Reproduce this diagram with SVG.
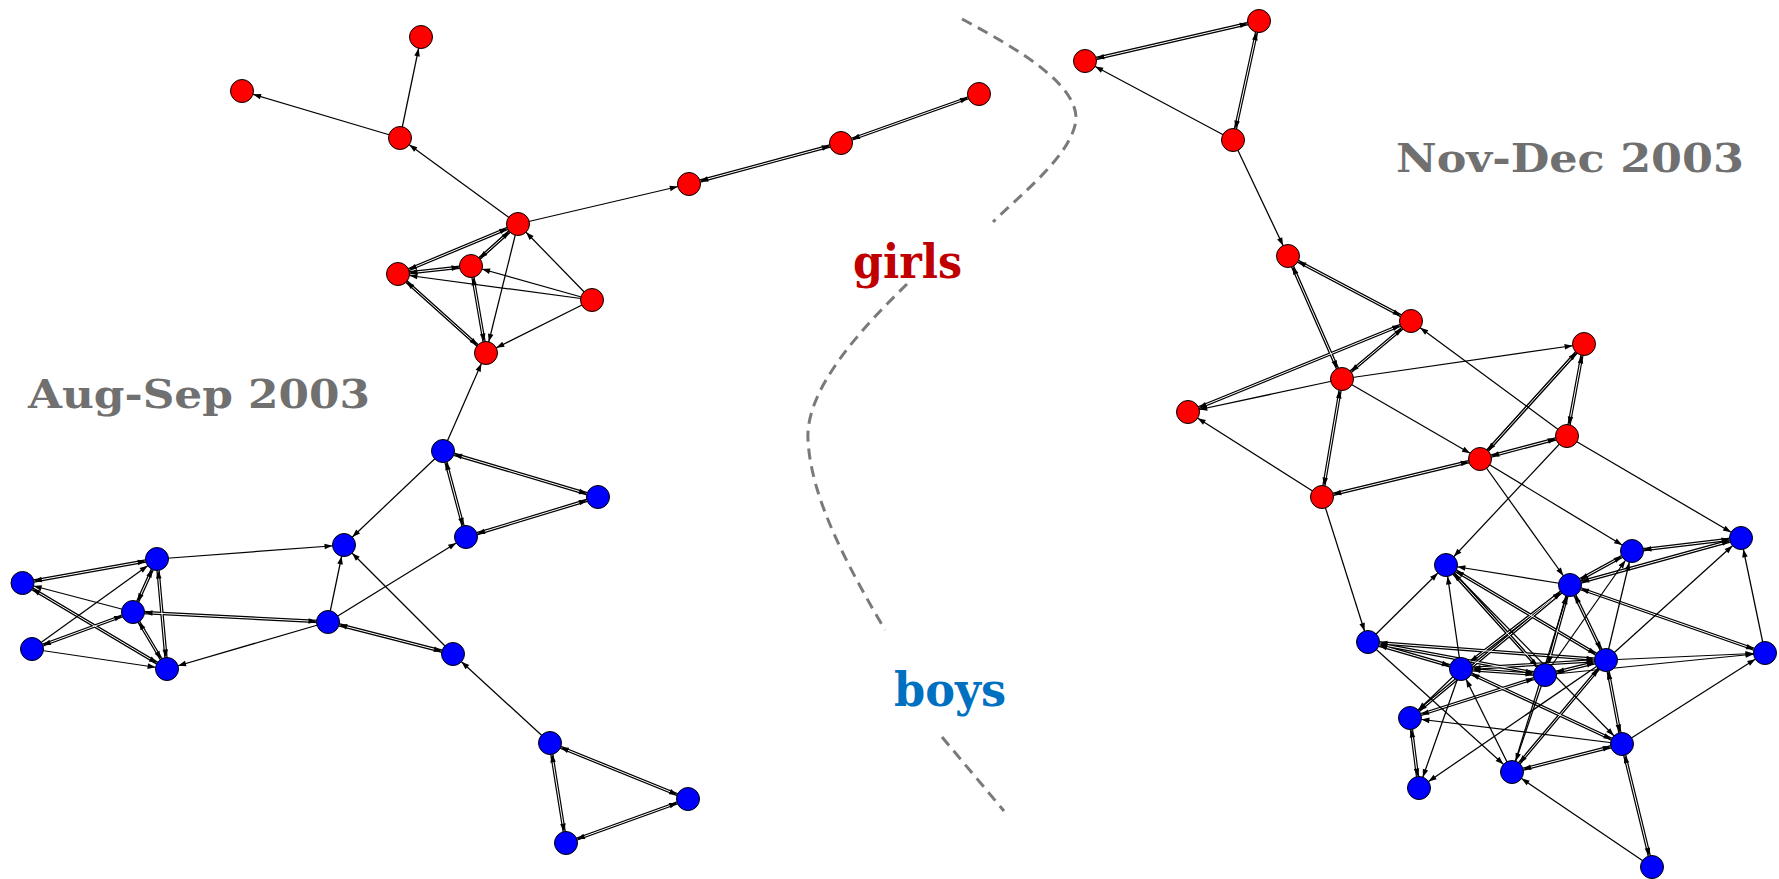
<svg xmlns="http://www.w3.org/2000/svg" xmlns:xlink="http://www.w3.org/1999/xlink" width="1779" height="879" viewBox="0 0 1779 879">
<style>
.bg{fill:#fff}
.pb{stroke:#000;stroke-width:3.4;fill:none}
.pw{stroke:#fff;stroke-width:1.0;fill:none}
.pm{stroke:none;fill:none;marker-start:url(#ah);marker-end:url(#ah)}
.sg path{stroke:#000;stroke-width:1.25;fill:none;marker-end:url(#ah)}
.r circle{fill:#ff0000;stroke:#000;stroke-width:1}
.b circle{fill:#0000ff;stroke:#000;stroke-width:1}
.sep{fill:none;stroke:#7a7a7a;stroke-width:3;stroke-dasharray:11 7}
.lbl{font-family:"DejaVu Serif","Liberation Serif",serif;font-weight:bold}
.per{fill:#707070;font-size:40px}
</style>
<defs>
<marker id="ah" markerUnits="userSpaceOnUse" viewBox="0 0 20 6" markerWidth="20" markerHeight="6" refX="19.5" refY="3" orient="auto-start-reverse" overflow="visible">
<path d="M0,0.2 L8,3 L0,5.8 z" fill="#000"/>
</marker>
<path id="q1" d="M689 184 L841 143"/>
<path id="q2" d="M841 143 L979 94"/>
<path id="q3" d="M518 224 L398 274"/>
<path id="q4" d="M518 224 L471 266"/>
<path id="q5" d="M471 266 L398 274"/>
<path id="q6" d="M471 266 L486 353"/>
<path id="q7" d="M398 274 L486 353"/>
<path id="q8" d="M443 451 L598 497"/>
<path id="q9" d="M443 451 L466 537"/>
<path id="q10" d="M598 497 L466 537"/>
<path id="q11" d="M328 622 L453 654"/>
<path id="q12" d="M328 622 L133 612"/>
<path id="q13" d="M157 559 L22.5 583"/>
<path id="q14" d="M157 559 L133 612"/>
<path id="q15" d="M157 559 L167 669"/>
<path id="q16" d="M133 612 L167 669"/>
<path id="q17" d="M22.5 583 L167 669"/>
<path id="q18" d="M32 649 L133 612"/>
<path id="q19" d="M550 743 L688 799"/>
<path id="q20" d="M550 743 L566 843"/>
<path id="q21" d="M688 799 L566 843"/>
<path id="q22" d="M1259 21 L1085 61"/>
<path id="q23" d="M1259 21 L1233 140"/>
<path id="q24" d="M1288 256 L1411 321"/>
<path id="q25" d="M1288 256 L1342 379"/>
<path id="q26" d="M1411 321 L1342 379"/>
<path id="q27" d="M1411 321 L1188 412"/>
<path id="q28" d="M1342 379 L1322 497"/>
<path id="q29" d="M1584 344 L1567 436"/>
<path id="q30" d="M1584 344 L1480 459"/>
<path id="q31" d="M1480 459 L1567 436"/>
<path id="q32" d="M1322 497 L1480 459"/>
<path id="q33" d="M1741 538 L1632 551"/>
<path id="q34" d="M1741 538 L1570 585"/>
<path id="q35" d="M1632 551 L1570 585"/>
<path id="q36" d="M1765 653 L1570 585"/>
<path id="q37" d="M1570 585 L1606 660"/>
<path id="q38" d="M1570 585 L1545 675"/>
<path id="q39" d="M1570 585 L1461 669"/>
<path id="q40" d="M1570 585 L1410 718"/>
<path id="q41" d="M1446 565 L1545 675"/>
<path id="q42" d="M1446 565 L1606 660"/>
<path id="q43" d="M1368 642 L1606 660"/>
<path id="q44" d="M1368 642 L1461 669"/>
<path id="q45" d="M1368 642 L1545 675"/>
<path id="q46" d="M1461 669 L1545 675"/>
<path id="q47" d="M1461 669 L1606 660"/>
<path id="q48" d="M1545 675 L1606 660"/>
<path id="q49" d="M1606 660 L1622 744"/>
<path id="q50" d="M1606 660 L1512 772"/>
<path id="q51" d="M1461 669 L1622 744"/>
<path id="q52" d="M1545 675 L1410 718"/>
<path id="q53" d="M1410 718 L1419 788"/>
<path id="q54" d="M1512 772 L1622 744"/>
<path id="q55" d="M1652 867 L1622 744"/>
</defs>
<rect class="bg" x="0" y="0" width="1779" height="879"/>

<g id="separator">
<path class="sep" d="M962,19 C1020,50 1078,85 1076,120 C1072,155 1020,195 993,222"/>
<path class="sep" d="M907,284 C860,330 805,390 808,440 C811,500 850,570 885,630"/>
<path class="sep" d="M942,737 L1004,811"/>
</g>

<g id="connectors">
<g class="pb">
<use href="#q1"/><use href="#q2"/><use href="#q3"/><use href="#q4"/><use href="#q5"/><use href="#q6"/><use href="#q7"/><use href="#q8"/><use href="#q9"/><use href="#q10"/><use href="#q11"/><use href="#q12"/><use href="#q13"/><use href="#q14"/><use href="#q15"/><use href="#q16"/><use href="#q17"/><use href="#q18"/><use href="#q19"/><use href="#q20"/><use href="#q21"/><use href="#q22"/><use href="#q23"/><use href="#q24"/><use href="#q25"/><use href="#q26"/><use href="#q27"/><use href="#q28"/><use href="#q29"/><use href="#q30"/><use href="#q31"/><use href="#q32"/><use href="#q33"/><use href="#q34"/><use href="#q35"/><use href="#q36"/><use href="#q37"/><use href="#q38"/><use href="#q39"/><use href="#q40"/><use href="#q41"/><use href="#q42"/><use href="#q43"/><use href="#q44"/><use href="#q45"/><use href="#q46"/><use href="#q47"/><use href="#q48"/><use href="#q49"/><use href="#q50"/><use href="#q51"/><use href="#q52"/><use href="#q53"/><use href="#q54"/><use href="#q55"/>
</g>
<g class="pw">
<use href="#q1"/><use href="#q2"/><use href="#q3"/><use href="#q4"/><use href="#q5"/><use href="#q6"/><use href="#q7"/><use href="#q8"/><use href="#q9"/><use href="#q10"/><use href="#q11"/><use href="#q12"/><use href="#q13"/><use href="#q14"/><use href="#q15"/><use href="#q16"/><use href="#q17"/><use href="#q18"/><use href="#q19"/><use href="#q20"/><use href="#q21"/><use href="#q22"/><use href="#q23"/><use href="#q24"/><use href="#q25"/><use href="#q26"/><use href="#q27"/><use href="#q28"/><use href="#q29"/><use href="#q30"/><use href="#q31"/><use href="#q32"/><use href="#q33"/><use href="#q34"/><use href="#q35"/><use href="#q36"/><use href="#q37"/><use href="#q38"/><use href="#q39"/><use href="#q40"/><use href="#q41"/><use href="#q42"/><use href="#q43"/><use href="#q44"/><use href="#q45"/><use href="#q46"/><use href="#q47"/><use href="#q48"/><use href="#q49"/><use href="#q50"/><use href="#q51"/><use href="#q52"/><use href="#q53"/><use href="#q54"/><use href="#q55"/>
</g>
<g class="sg">
<path d="M400 138 L421 37"/>
<path d="M400 138 L242 91"/>
<path d="M518 224 L400 138"/>
<path d="M518 224 L689 184"/>
<path d="M592 300 L398 274"/>
<path d="M592 300 L471 266"/>
<path d="M592 300 L518 224"/>
<path d="M592 300 L486 353"/>
<path d="M518 224 L486 353"/>
<path d="M443 451 L486 353"/>
<path d="M443 451 L344 545"/>
<path d="M328 622 L466 537"/>
<path d="M328 622 L344 545"/>
<path d="M453 654 L344 545"/>
<path d="M328 622 L167 669"/>
<path d="M157 559 L344 545"/>
<path d="M32 649 L157 559"/>
<path d="M133 612 L22.5 583"/>
<path d="M32 649 L167 669"/>
<path d="M550 743 L453 654"/>
<path d="M1233 140 L1085 61"/>
<path d="M1233 140 L1288 256"/>
<path d="M1342 379 L1188 412"/>
<path d="M1322 497 L1188 412"/>
<path d="M1342 379 L1584 344"/>
<path d="M1342 379 L1480 459"/>
<path d="M1567 436 L1411 321"/>
<path d="M1322 497 L1368 642"/>
<path d="M1480 459 L1570 585"/>
<path d="M1480 459 L1632 551"/>
<path d="M1567 436 L1446 565"/>
<path d="M1567 436 L1741 538"/>
<path d="M1606 660 L1741 538"/>
<path d="M1765 653 L1741 538"/>
<path d="M1606 660 L1632 551"/>
<path d="M1545 675 L1632 551"/>
<path d="M1570 585 L1446 565"/>
<path d="M1368 642 L1446 565"/>
<path d="M1461 669 L1446 565"/>
<path d="M1606 660 L1765 653"/>
<path d="M1545 675 L1765 653"/>
<path d="M1622 744 L1765 653"/>
<path d="M1368 642 L1512 772"/>
<path d="M1606 660 L1419 788"/>
<path d="M1461 669 L1419 788"/>
<path d="M1461 669 L1410 718"/>
<path d="M1622 744 L1410 718"/>
<path d="M1512 772 L1461 669"/>
<path d="M1545 675 L1512 772"/>
<path d="M1652 867 L1512 772"/>
<path d="M1512 772 L1570 585"/>
<path d="M1446 565 L1622 744"/>
</g>
<g class="pm">
<use href="#q1"/><use href="#q2"/><use href="#q3"/><use href="#q4"/><use href="#q5"/><use href="#q6"/><use href="#q7"/><use href="#q8"/><use href="#q9"/><use href="#q10"/><use href="#q11"/><use href="#q12"/><use href="#q13"/><use href="#q14"/><use href="#q15"/><use href="#q16"/><use href="#q17"/><use href="#q18"/><use href="#q19"/><use href="#q20"/><use href="#q21"/><use href="#q22"/><use href="#q23"/><use href="#q24"/><use href="#q25"/><use href="#q26"/><use href="#q27"/><use href="#q28"/><use href="#q29"/><use href="#q30"/><use href="#q31"/><use href="#q32"/><use href="#q33"/><use href="#q34"/><use href="#q35"/><use href="#q36"/><use href="#q37"/><use href="#q38"/><use href="#q39"/><use href="#q40"/><use href="#q41"/><use href="#q42"/><use href="#q43"/><use href="#q44"/><use href="#q45"/><use href="#q46"/><use href="#q47"/><use href="#q48"/><use href="#q49"/><use href="#q50"/><use href="#q51"/><use href="#q52"/><use href="#q53"/><use href="#q54"/><use href="#q55"/>
</g>
</g>

<g id="nodes">
<g id="r1" class="r"><circle cx="421" cy="37" r="11.5"/></g>
<g id="r2" class="r"><circle cx="242" cy="91" r="11.5"/></g>
<g id="r3" class="r"><circle cx="400" cy="138" r="11.5"/></g>
<g id="r4" class="r"><circle cx="518" cy="224" r="11.5"/></g>
<g id="r5" class="r"><circle cx="471" cy="266" r="11.5"/></g>
<g id="r6" class="r"><circle cx="398" cy="274" r="11.5"/></g>
<g id="r7" class="r"><circle cx="592" cy="300" r="11.5"/></g>
<g id="r8" class="r"><circle cx="486" cy="353" r="11.5"/></g>
<g id="r9" class="r"><circle cx="689" cy="184" r="11.5"/></g>
<g id="r10" class="r"><circle cx="841" cy="143" r="11.5"/></g>
<g id="r11" class="r"><circle cx="979" cy="94" r="11.5"/></g>
<g id="b1" class="b"><circle cx="443" cy="451" r="11.5"/></g>
<g id="b2" class="b"><circle cx="598" cy="497" r="11.5"/></g>
<g id="b3" class="b"><circle cx="466" cy="537" r="11.5"/></g>
<g id="b4" class="b"><circle cx="344" cy="545" r="11.5"/></g>
<g id="b5" class="b"><circle cx="157" cy="559" r="11.5"/></g>
<g id="b6" class="b"><circle cx="22.5" cy="583" r="11.5"/></g>
<g id="b7" class="b"><circle cx="133" cy="612" r="11.5"/></g>
<g id="b8" class="b"><circle cx="328" cy="622" r="11.5"/></g>
<g id="b9" class="b"><circle cx="32" cy="649" r="11.5"/></g>
<g id="b10" class="b"><circle cx="167" cy="669" r="11.5"/></g>
<g id="b11" class="b"><circle cx="453" cy="654" r="11.5"/></g>
<g id="b12" class="b"><circle cx="550" cy="743" r="11.5"/></g>
<g id="b13" class="b"><circle cx="688" cy="799" r="11.5"/></g>
<g id="b14" class="b"><circle cx="566" cy="843" r="11.5"/></g>
<g id="s1" class="r"><circle cx="1259" cy="21" r="11.5"/></g>
<g id="s2" class="r"><circle cx="1085" cy="61" r="11.5"/></g>
<g id="s3" class="r"><circle cx="1233" cy="140" r="11.5"/></g>
<g id="s4" class="r"><circle cx="1288" cy="256" r="11.5"/></g>
<g id="s5" class="r"><circle cx="1411" cy="321" r="11.5"/></g>
<g id="s6" class="r"><circle cx="1584" cy="344" r="11.5"/></g>
<g id="s7" class="r"><circle cx="1342" cy="379" r="11.5"/></g>
<g id="s8" class="r"><circle cx="1188" cy="412" r="11.5"/></g>
<g id="s9" class="r"><circle cx="1567" cy="436" r="11.5"/></g>
<g id="s10" class="r"><circle cx="1480" cy="459" r="11.5"/></g>
<g id="s11" class="r"><circle cx="1322" cy="497" r="11.5"/></g>
<g id="t1" class="b"><circle cx="1741" cy="538" r="11.5"/></g>
<g id="t2" class="b"><circle cx="1632" cy="551" r="11.5"/></g>
<g id="t3" class="b"><circle cx="1446" cy="565" r="11.5"/></g>
<g id="t4" class="b"><circle cx="1570" cy="585" r="11.5"/></g>
<g id="t5" class="b"><circle cx="1368" cy="642" r="11.5"/></g>
<g id="t6" class="b"><circle cx="1765" cy="653" r="11.5"/></g>
<g id="t7" class="b"><circle cx="1606" cy="660" r="11.5"/></g>
<g id="t8" class="b"><circle cx="1461" cy="669" r="11.5"/></g>
<g id="t9" class="b"><circle cx="1545" cy="675" r="11.5"/></g>
<g id="t10" class="b"><circle cx="1410" cy="718" r="11.5"/></g>
<g id="t11" class="b"><circle cx="1622" cy="744" r="11.5"/></g>
<g id="t12" class="b"><circle cx="1512" cy="772" r="11.5"/></g>
<g id="t13" class="b"><circle cx="1419" cy="788" r="11.5"/></g>
<g id="t14" class="b"><circle cx="1652" cy="867" r="11.5"/></g>
</g>

<g id="labels">
<text class="lbl per" x="28" y="408" textLength="342" lengthAdjust="spacingAndGlyphs">Aug-Sep 2003</text>
<text class="lbl per" x="1396" y="172" textLength="348" lengthAdjust="spacingAndGlyphs">Nov-Dec 2003</text>
<text class="lbl" x="853" y="278" font-size="47" fill="#c00000" textLength="109" lengthAdjust="spacingAndGlyphs">girls</text>
<text class="lbl" x="894" y="706" font-size="47" fill="#0070c0" textLength="112" lengthAdjust="spacingAndGlyphs">boys</text>
</g>
</svg>
